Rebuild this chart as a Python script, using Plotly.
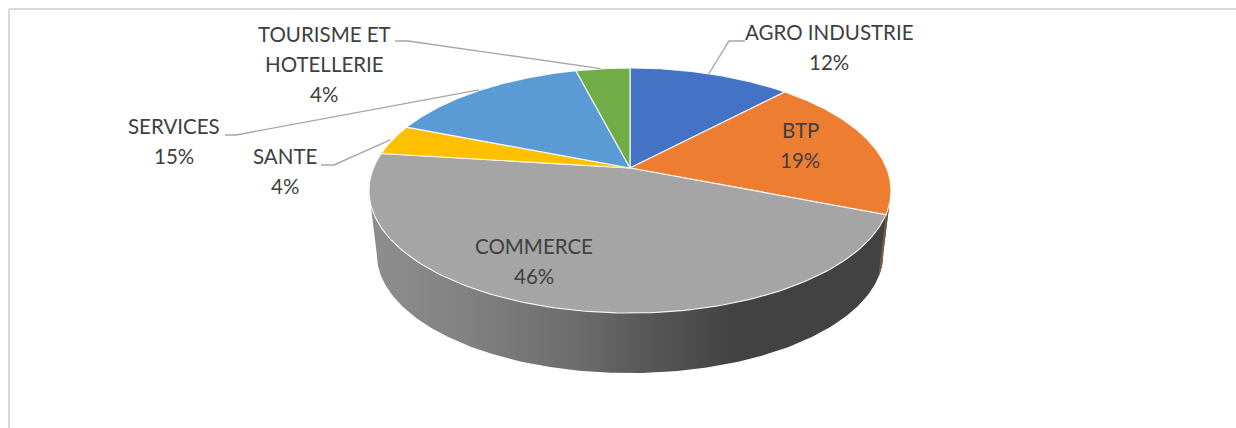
import numpy as np
import plotly.graph_objects as go

# ---- data ----
categories = ["AGRO INDUSTRIE", "BTP", "COMMERCE", "SANTE", "SERVICES", "TOURISME ET HOTELLERIE"]
values = [12, 19, 46, 4, 15, 4]
colors = ["#4472C4", "#ED7D31", "#A5A5A5", "#FFC000", "#5B9BD5", "#70AD47"]

# label layout: (text lines, centre x, first-line centre y)
label_layout = {
    "AGRO INDUSTRIE": (["AGRO INDUSTRIE"], 829, 32),
    "BTP": (["BTP"], 800, 130),
    "COMMERCE": (["COMMERCE"], 534, 246),
    "SANTE": (["SANTE"], 285, 156),
    "SERVICES": (["SERVICES"], 174, 126),
    "TOURISME ET HOTELLERIE": (["TOURISME ET", "HOTELLERIE"], 324, 34),
}
# leader elbow: (text-side x, elbow x, y)
leaders = {
    "AGRO INDUSTRIE": (745, 729, 41),
    "SANTE": (321, 334, 165),
    "SERVICES": (225, 236, 135),
    "TOURISME ET HOTELLERIE": (395, 408, 41),
}

# ---- projection of a tilted disc on the page (pixel axes) ----
CX, CY, R, S, K = 630.0, 168.0, 256.6, 118.4, 0.1837
WALL_SCALE, WALL_CY = 0.97, 232.4


def rim(theta, cy=CY, scale=1.0):
    w = 1 + K * np.cos(theta)
    return CX + scale * R * np.sin(theta) / w, cy - scale * S * np.cos(theta) / w


total = sum(values)
edges = 2 * np.pi * np.cumsum([0] + values) / total
mids = (edges[:-1] + edges[1:]) / 2

fig = go.Figure()

# side wall
t_left = 2 * np.pi - np.arccos(-K)
t_right = np.arccos(-K)
ts = np.linspace(t_right, t_left, 240)
xt, yt = rim(ts)
xb, yb = rim(ts[::-1], WALL_CY, WALL_SCALE)
fig.add_trace(go.Scatter(
    x=np.r_[xt, xb], y=np.r_[yt, yb], mode="lines", fill="toself",
    line=dict(width=0, color="#666666"), hoverinfo="skip", showlegend=False,
    fillgradient=dict(type="horizontal", colorscale=[
        [0.0, "#8e8e8e"], [0.2, "#808080"], [0.42, "#6a6a6a"],
        [0.5, "#5c5c5c"], [0.7, "#424242"], [1.0, "#424242"]]),
))
# thin orange sliver of the wall on the right
ts2 = np.linspace(t_right, edges[2], 12)
xt2, yt2 = rim(ts2)
xb2, yb2 = rim(ts2[::-1], WALL_CY, WALL_SCALE)
fig.add_trace(go.Scatter(
    x=np.r_[xt2, xb2], y=np.r_[yt2, yb2], mode="lines", fill="toself",
    fillcolor="#7a5a44", line=dict(width=0), hoverinfo="skip", showlegend=False,
))

# top slices
for name, a, b, col, v in zip(categories, edges[:-1], edges[1:], colors, values):
    t = np.linspace(a, b, 160)
    xr, yr = rim(t)
    fig.add_trace(go.Scatter(
        x=np.r_[CX, xr, CX], y=np.r_[CY, yr, CY], mode="lines", fill="toself",
        fillcolor=col, line=dict(color="rgba(255,255,255,0.85)", width=1.2),
        name=name, text=f"{name}: {v}%", hoverinfo="text", showlegend=False,
    ))

# labels
annotations = []
shapes = []
LINE = 30
FONT = dict(family="Lato, Carlito, Open Sans, sans-serif", size=20.5, color="#404040")
for name, v, mid in zip(categories, values, mids):
    lines, lx, ly = label_layout[name]
    for i, txt in enumerate(lines + [f"{v}%"]):
        annotations.append(dict(x=lx, y=ly + i * LINE, text=txt, showarrow=False,
                                xref="x", yref="y", xanchor="center", yanchor="middle",
                                font=FONT))
    if name in leaders:
        x0, x1, y = leaders[name]
        ex, ey = rim(mid)
        shapes.append(dict(type="path", xref="x", yref="y",
                           path=f"M{x0},{y} L{x1},{y} L{ex - 2:.1f},{ey:.1f}",
                           line=dict(color="#A6A6A6", width=1.4)))

# chart frame
for x0, y0, x1, y1 in [(9, 9, 1236, 9), (9, 9, 9, 428)]:
    shapes.append(dict(type="line", xref="x", yref="y", x0=x0, y0=y0, x1=x1, y1=y1,
                       line=dict(color="#D9D9D9", width=2), layer="below"))

fig.update_layout(
    width=1236, height=428, margin=dict(l=0, r=0, t=0, b=0),
    paper_bgcolor="white", plot_bgcolor="white", showlegend=False,
    xaxis=dict(range=[0, 1236], visible=False, fixedrange=True),
    yaxis=dict(range=[428, 0], visible=False, fixedrange=True),
    annotations=annotations, shapes=shapes,
)
fig.write_html("out.html", config={"displayModeBar": False},
               post_script="document.body.style.margin='0';document.body.style.overflow='hidden';")
